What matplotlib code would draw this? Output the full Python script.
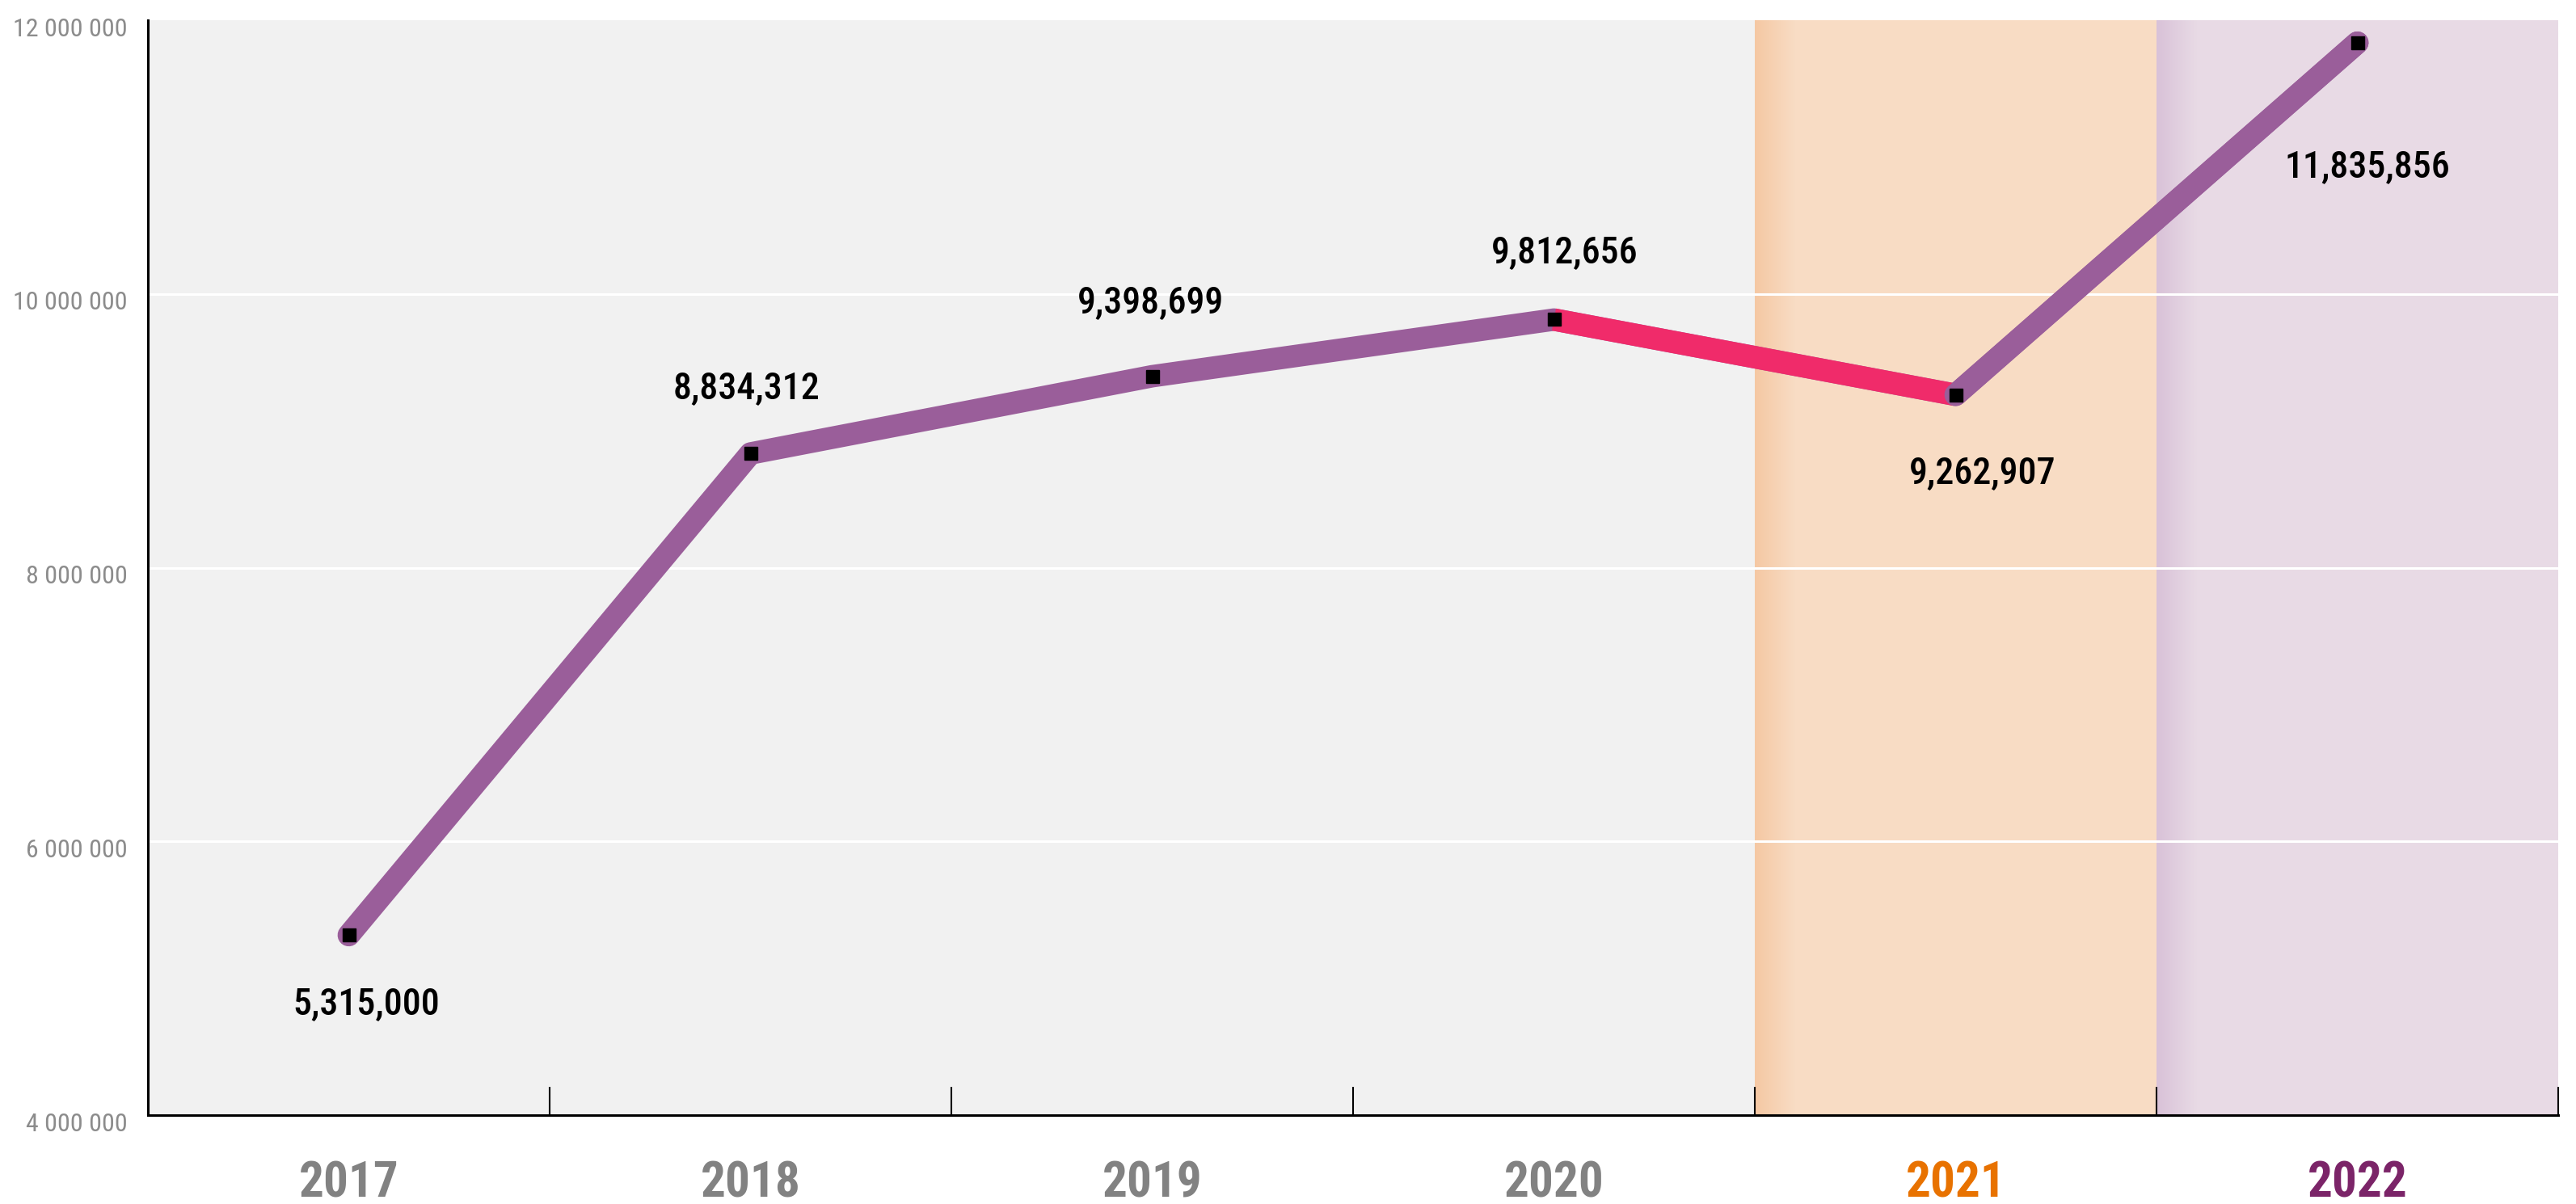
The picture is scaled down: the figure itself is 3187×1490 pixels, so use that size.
import numpy as np
import matplotlib
matplotlib.use('Agg')
import matplotlib.pyplot as plt
from matplotlib import font_manager as fm
from matplotlib.colors import to_rgb
import matplotlib.transforms as mtransforms

# ---------------- data ----------------
years = ['2017', '2018', '2019', '2020', '2021', '2022']
values = [5315000, 8834312, 9398699, 9812656, 9262907, 11835856]
value_labels = ['5,315,000', '8,834,312', '9,398,699', '9,812,656', '9,262,907', '11,835,856']
y_ticks = [4000000, 6000000, 8000000, 10000000, 12000000]
y_tick_labels = ['4 000 000', '6 000 000', '8 000 000', '10 000 000', '12 000 000']
year_colors = ['#828282', '#828282', '#828282', '#828282', '#E87200', '#7B2468']

# label offsets in pixels (dx, dy) – styling only
label_offsets_px = [(22, -85), (-5, 81), (-2, 91), (13, 83), (33, -97), (12, -154)]

# ---------------- fonts ----------------
names = {f.name for f in fm.fontManager.ttflist}
for cand in ['Roboto Condensed', 'Liberation Sans Narrow', 'Open Sans Condensed']:
    if cand in names:
        cond_family = cand
        break
else:
    cond_family = 'DejaVu Sans'

def fp(size, weight='normal'):
    if cond_family == 'DejaVu Sans':
        return fm.FontProperties(family='DejaVu Sans', stretch='condensed', size=size, weight=weight)
    return fm.FontProperties(family=cond_family, size=size, weight=weight)

# ---------------- figure ----------------
W, H, DPI = 3187, 1490, 100
fig = plt.figure(figsize=(W / DPI, H / DPI), dpi=DPI)
fig.patch.set_facecolor('white')
left, right, bottom, top = 183 / W, 3165 / W, 1 - 1380 / H, 1 - 25 / H
ax = fig.add_axes([left, bottom, right - left, top - bottom])

x = np.arange(len(years))
ax.set_facecolor('#F1F1F1')

# highlighted bands with a soft left-edge gradient
def band(i, base, edge, gw=0.10):
    ax.axvspan(i - 0.5, i + 0.5, color=base, lw=0, zorder=0.5)
    c0 = np.array(to_rgb(edge)); c1 = np.array(to_rgb(base))
    t = np.linspace(0, 1, 64)[None, :, None]
    img = c0 * (1 - t) + c1 * t
    ax.imshow(img, extent=(i - 0.5, i - 0.5 + gw, y_ticks[0], y_ticks[-1]),
              aspect='auto', zorder=0.6, interpolation='bilinear')

band(4, '#F8DCC4', '#F5C8A3')
band(5, '#E8DAE5', '#D9C2D8')
ax.set_xlim(-0.5, len(years) - 0.5)
ax.set_ylim(y_ticks[0], y_ticks[-1])

# gridlines
for yv in y_ticks[1:-1]:
    ax.axhline(yv, color='white', lw=2.2, zorder=1)

# line
purple = '#9A5E9A'
pink = '#F02B6A'
ax.plot(x, values, color=purple, lw=20, solid_capstyle='round', solid_joinstyle='round', zorder=3)
ax.plot(x[3:5], values[3:5], color=pink, lw=20, solid_capstyle='butt', zorder=3.1)
ax.plot(x[4:6], values[4:6], color=purple, lw=20, solid_capstyle='round', zorder=3.2)
ax.plot(x, values, ls='none', marker='s', ms=11.5, color='black', zorder=4)

# value labels
for xi, v, lab, (dx, dy) in zip(x, values, value_labels, label_offsets_px):
    ax.annotate(lab, (xi, v), xytext=(dx * 0.72, dy * 0.72), textcoords='offset points',
                ha='center', va='center', color='black', fontproperties=fp(33, 'medium'), zorder=5)

# axes styling
for s in ['top', 'right']:
    ax.spines[s].set_visible(False)
for s in ['left', 'bottom']:
    ax.spines[s].set_color('black')
    ax.spines[s].set_linewidth(2.2)
    ax.spines[s].set_zorder(6)

ax.set_xticks(np.arange(len(years) + 1) - 0.5)
ax.set_xticklabels([])
ax.tick_params(axis='x', direction='in', length=25, width=1.5, color='black')

ax.set_yticks(y_ticks)
ax.set_yticklabels(y_tick_labels, fontproperties=fp(23), color='#8C8C8C')
ax.tick_params(axis='y', length=0, pad=18)
off = mtransforms.ScaledTranslation(0, -8 / DPI, fig.dpi_scale_trans)
for lab in ax.get_yticklabels():
    lab.set_transform(lab.get_transform() + off)

# year labels
trans = mtransforms.blended_transform_factory(ax.transData, ax.transAxes)
yoff = mtransforms.ScaledTranslation(0, -84 / DPI, fig.dpi_scale_trans)
for xi, yr, col in zip(x, years, year_colors):
    ax.text(xi, 0, yr, transform=trans + yoff, ha='center', va='center',
            color=col, fontproperties=fp(44, 'bold'))

fig.savefig('out.png', dpi=DPI, facecolor='white')
